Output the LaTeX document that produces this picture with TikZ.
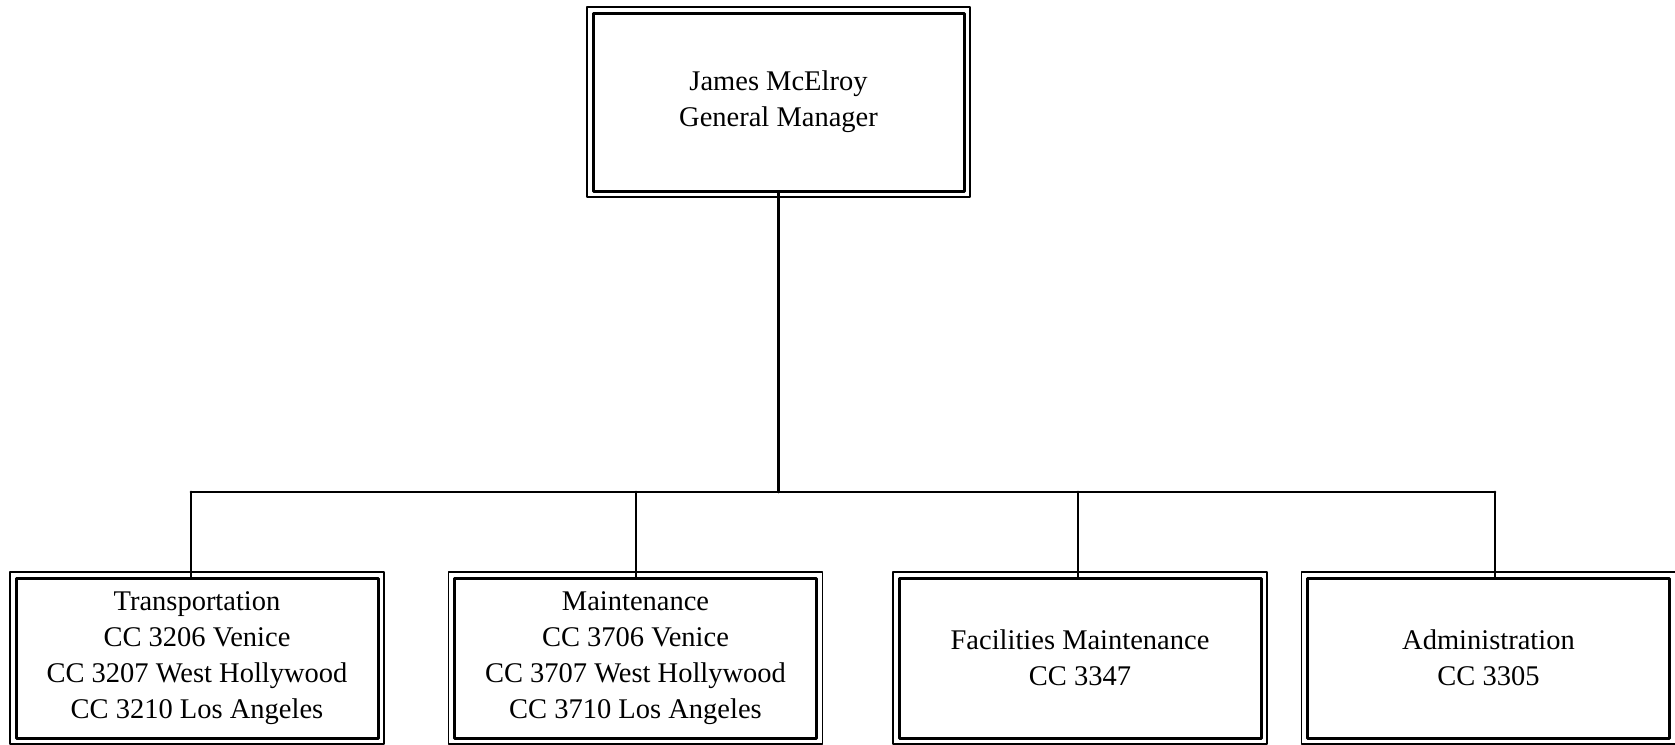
\documentclass[tikz,border=0pt]{standalone}
\usepackage{fontspec}
\setmainfont{Liberation Serif}
\usetikzlibrary{calc}

\begin{document}
\begin{tikzpicture}[
				x=1pt,y=-1pt,
				line cap=round,
				line join=round,
				draw=black,
				unit/.style={draw, line width=3pt, align=center, inner sep=0pt,
					font=\fontsize{28.5}{36}\selectfont},
				topunit/.style={unit, minimum width=371pt, minimum height=178pt},
				subunit/.style={unit, minimum width=362pt, minimum height=160pt},
				frame/.style={line width=1.5pt},
				link/.style={line width=2.8pt}
				]
				\useasboundingbox (0,0) rectangle (1675,744);
				
				% General manager
				\node[topunit] (gm) at (778.5,102) {James McElroy\\General Manager};
				
				% Units
				\node[subunit] (tr) at (197,658) {Transportation\\CC 3206 Venice\\CC 3207 West Hollywood\\CC 3210 Los Angeles};
				\node[subunit] (mt) at (635.5,658) {Maintenance\\CC 3706 Venice\\CC 3707 West Hollywood\\CC 3710 Los Angeles};
				\node[subunit] (fm) at (1080,658) {Facilities Maintenance\\CC 3347};
				\node[subunit] (ad) at (1488.5,658) {Administration\\CC 3305};
				
				% Outer frames
				\foreach \n in {gm,tr,mt,fm,ad}
				\draw[frame] ([shift={(-4.5pt,4.5pt)}]\n.north west) rectangle ([shift={(4.5pt,-4.5pt)}]\n.south east);
				
				% Bus
				\coordinate (b1) at (191,492);
				\coordinate (b2) at (636,492);
				\coordinate (b3) at (1078,492);
				\coordinate (b4) at (1495,492);
				
				\draw[link] (gm.south) -- (gm.south |- b1);
				\draw[link] (b1) -- (b4);
				\draw[link] (b1) -- (b1 |- tr.north);
				\draw[link] (b2) -- (b2 |- mt.north);
				\draw[link] (b3) -- (b3 |- fm.north);
				\draw[link] (b4) -- (b4 |- ad.north);
			\end{tikzpicture}
\end{document}
